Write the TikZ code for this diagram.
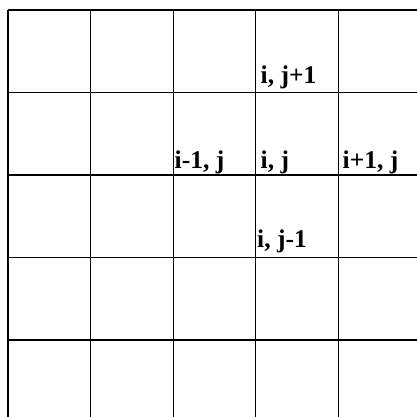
\documentclass[tikz,border=0pt]{standalone}
\usepackage{fontspec}
\setmainfont{Liberation Serif}
\begin{document}
\begin{tikzpicture}[x=1pt,y=-1pt,
  gridline/.style={line width=1.3pt,black},
  lbl/.style={anchor=base west,inner sep=0pt,font=\fontsize{25.5}{30}\selectfont\bfseries}]
\useasboundingbox (0,0) rectangle (417,416);
\clip (0,0) rectangle (417,416);
\foreach \k in {0,...,5}{
  \draw[gridline] ({8+82.6*\k},10) -- ({8+82.6*\k},430);
  \draw[gridline] (8,{10+82.5*\k}) -- (430,{10+82.5*\k});
}
\node[lbl] (top) at (260.5,83.5) {i, j+1};
\node[lbl] (left) at (174.5,168) {i-1, j};
\node[lbl] (mid) at (260.5,168) {i, j};
\node[lbl] (right) at (342.5,168) {i+1, j};
\node[lbl] (bot) at (257,247.5) {i, j-1};
\end{tikzpicture}
\end{document}
